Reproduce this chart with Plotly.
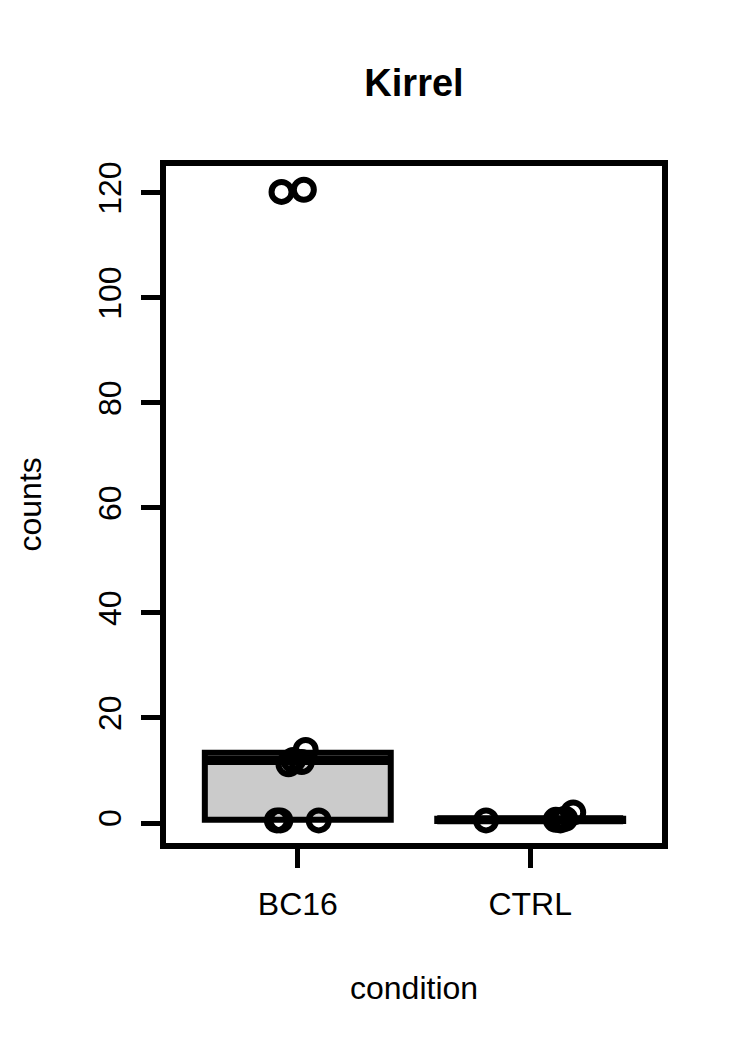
import plotly.graph_objects as go

# ---- data ----
categories = ["BC16", "CTRL"]
positions = [1, 2]

# box statistics per condition
q1_values = [0.6, 0.4]
median_values = [11.9, 0.6]
q3_values = [13.4, 0.8]

# individual (jittered) observations
bc16_counts = [0.5, 0.5, 0.5, 11.2, 11.6, 12.0, 13.9, 120.2, 120.6]
bc16_jitter = [-0.09, -0.075, 0.09, -0.04, 0.017, -0.02, 0.034, -0.07, 0.026]
ctrl_counts = [0.5, 0.6, 0.5, 0.8, 2.0]
ctrl_jitter = [-0.19, 0.11, 0.13, 0.15, 0.185]

y_ticks = [0, 20, 40, 60, 80, 100, 120]

FONT = "Liberation Sans, Arial, sans-serif"
BOX_WIDTH = 0.8

fig = go.Figure()

for pos, q1, med, q3 in zip(positions, q1_values, median_values, q3_values):
    fig.add_trace(go.Box(
        x=[pos], q1=[q1], median=[med], q3=[q3],
        lowerfence=[q1], upperfence=[q3],
        width=BOX_WIDTH,
        fillcolor="#cbcbcb",
        line=dict(color="black", width=6),
        boxpoints=False,
        showlegend=False,
        hoverinfo="skip",
    ))
    # thicker median line (R style)
    fig.add_trace(go.Scatter(
        x=[pos - BOX_WIDTH / 2, pos + BOX_WIDTH / 2], y=[med, med],
        mode="lines", line=dict(color="black", width=9),
        showlegend=False, hoverinfo="skip",
    ))

for pos, vals, jit in [(positions[0], bc16_counts, bc16_jitter),
                       (positions[1], ctrl_counts, ctrl_jitter)]:
    fig.add_trace(go.Scatter(
        x=[pos + j for j in jit], y=vals,
        mode="markers",
        marker=dict(symbol="circle-open", size=20, color="black",
                    line=dict(width=6, color="black")),
        showlegend=False, hoverinfo="skip",
    ))

fig.update_layout(
    width=750, height=1050,
    margin=dict(l=163, r=85, t=163, b=204),
    paper_bgcolor="white", plot_bgcolor="white",
    font=dict(family=FONT, color="black", size=32),
    title=dict(text="<b>Kirrel</b>", font=dict(size=38, family=FONT, color="black"),
               x=0.5, xref="paper", xanchor="center",
               y=1 - 83 / 1050, yref="container", yanchor="middle"),
    xaxis=dict(range=[0.42, 2.58], tickvals=positions, ticktext=categories,
               ticks="outside", ticklen=21, tickwidth=5, tickcolor="black",
               showgrid=False, zeroline=False, showline=False,
               tickfont=dict(size=32, family=FONT), ticklabelstandoff=9),
    yaxis=dict(range=[-4.38, 125.7], tickvals=y_ticks,
               ticks="outside", ticklen=21, tickwidth=5, tickcolor="black",
               showgrid=False, zeroline=False, showline=False, tickangle=-90,
               tickfont=dict(size=32, family=FONT), ticklabelstandoff=7),
    shapes=[dict(type="rect", xref="paper", yref="paper", x0=0, x1=1, y0=0, y1=1,
                 line=dict(color="black", width=6), fillcolor="rgba(0,0,0,0)",
                 layer="above")],
    annotations=[
        dict(text="counts", xref="paper", yref="paper", x=(29 - 163) / 502, y=0.5,
             xanchor="center", yanchor="middle", textangle=-90, showarrow=False,
             font=dict(size=32, family=FONT)),
        dict(text="condition", xref="paper", yref="paper", x=0.5, y=-(988 - 846) / 683,
             xanchor="center", yanchor="middle", showarrow=False,
             font=dict(size=32, family=FONT)),
    ],
)

fig.write_html("out.html")
